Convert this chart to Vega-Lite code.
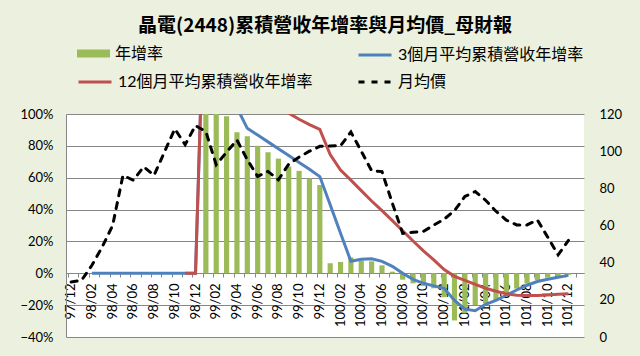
{
  "$schema": "https://vega.github.io/schema/vega-lite/v6.json",
  "width": 518,
  "height": 223,
  "autosize": {"type": "none"},
  "padding": {"left": 66, "top": 114, "right": 56, "bottom": 19},
  "background": "#EBF1DE",
  "config": {
    "view": {"fill": "#FFFFFF", "stroke": null},
    "font": "Lato, Noto Sans CJK TC",
    "axis": {"labelFont": "Lato, Noto Sans CJK TC", "labelColor": "#000000"},
    "legend": {"labelFont": "Lato, Noto Sans CJK TC", "labelFontSize": 16, "labelColor": "#000000", "labelOffset": 5, "labelLimit": 400, "symbolSize": 1089, "orient": "none", "padding": 0}
  },
  "title": {
    "text": "晶電(2448)累積營收年增率與月均價_母財報",
    "font": "Noto Sans CJK TC",
    "fontSize": 19,
    "fontWeight": "bold",
    "color": "#000000",
    "anchor": "middle",
    "offset": 1
  },
  "data": {
    "values": [
      {"m": "97/12", "yoy": null, "r3": null, "r12": null, "p": 29.6},
      {"m": "98/01", "yoy": null, "r3": null, "r12": null, "p": 30.5},
      {"m": "98/02", "yoy": null, "r3": 0, "r12": null, "p": 38.6},
      {"m": "98/03", "yoy": null, "r3": 0, "r12": null, "p": 48.5},
      {"m": "98/04", "yoy": null, "r3": 0, "r12": null, "p": 60},
      {"m": "98/05", "yoy": null, "r3": 0, "r12": null, "p": 87},
      {"m": "98/06", "yoy": null, "r3": 0, "r12": null, "p": 84.4},
      {"m": "98/07", "yoy": null, "r3": 0, "r12": null, "p": 91.6},
      {"m": "98/08", "yoy": null, "r3": 0, "r12": null, "p": 87},
      {"m": "98/09", "yoy": null, "r3": 0, "r12": null, "p": 99.5},
      {"m": "98/10", "yoy": null, "r3": 0, "r12": null, "p": 112},
      {"m": "98/11", "yoy": null, "r3": 0, "r12": 0, "p": 103.5},
      {"m": "98/12", "yoy": null, "r3": 0, "r12": 0, "p": 113.8},
      {"m": "99/01", "yoy": 2.11, "r3": 2.11, "r12": 2.11, "p": 110.5},
      {"m": "99/02", "yoy": 1.25, "r3": 1.68, "r12": 1.68, "p": 92.7},
      {"m": "99/03", "yoy": 0.986, "r3": 1.449, "r12": 1.449, "p": 99.5},
      {"m": "99/04", "yoy": 0.886, "r3": 1.04, "r12": 1.308, "p": 106},
      {"m": "99/05", "yoy": 0.86, "r3": 0.91, "r12": 1.218, "p": 95.4},
      {"m": "99/06", "yoy": 0.80, "r3": 0.868, "r12": 1.149, "p": 86.4},
      {"m": "99/07", "yoy": 0.76, "r3": 0.825, "r12": 1.093, "p": 89.1},
      {"m": "99/08", "yoy": 0.72, "r3": 0.782, "r12": 1.047, "p": 84.6},
      {"m": "99/09", "yoy": 0.67, "r3": 0.739, "r12": 1.005, "p": 93},
      {"m": "99/10", "yoy": 0.643, "r3": 0.696, "r12": 0.967, "p": 96.8},
      {"m": "99/11", "yoy": 0.596, "r3": 0.653, "r12": 0.933, "p": 100},
      {"m": "99/12", "yoy": 0.554, "r3": 0.607, "r12": 0.903, "p": 102.6},
      {"m": "100/01", "yoy": 0.063, "r3": 0.43, "r12": 0.745, "p": 102.8},
      {"m": "100/02", "yoy": 0.071, "r3": 0.252, "r12": 0.648, "p": 102.9},
      {"m": "100/03", "yoy": 0.10, "r3": 0.075, "r12": 0.585, "p": 110.3},
      {"m": "100/04", "yoy": 0.08, "r3": 0.088, "r12": 0.519, "p": 100},
      {"m": "100/05", "yoy": 0.075, "r3": 0.091, "r12": 0.454, "p": 89.5},
      {"m": "100/06", "yoy": 0.05, "r3": 0.075, "r12": 0.393, "p": 89},
      {"m": "100/07", "yoy": 0.01, "r3": 0.044, "r12": 0.331, "p": 72},
      {"m": "100/08", "yoy": -0.04, "r3": 0.0, "r12": 0.267, "p": 55.8},
      {"m": "100/09", "yoy": -0.063, "r3": -0.038, "r12": 0.203, "p": 56.4},
      {"m": "100/10", "yoy": -0.08, "r3": -0.063, "r12": 0.141, "p": 56.8},
      {"m": "100/11", "yoy": -0.094, "r3": -0.079, "r12": 0.084, "p": 60.2},
      {"m": "100/12", "yoy": -0.15, "r3": -0.094, "r12": 0.023, "p": 63.4},
      {"m": "101/01", "yoy": -0.296, "r3": -0.17, "r12": -0.019, "p": 68},
      {"m": "101/02", "yoy": -0.25, "r3": -0.225, "r12": -0.044, "p": 75.6},
      {"m": "101/03", "yoy": -0.20, "r3": -0.235, "r12": -0.069, "p": 78.3},
      {"m": "101/04", "yoy": -0.19, "r3": -0.195, "r12": -0.094, "p": 73.6},
      {"m": "101/05", "yoy": -0.17, "r3": -0.17, "r12": -0.113, "p": 67.7},
      {"m": "101/06", "yoy": -0.138, "r3": -0.138, "r12": -0.129, "p": 62.9},
      {"m": "101/07", "yoy": -0.096, "r3": -0.105, "r12": -0.138, "p": 60.3},
      {"m": "101/08", "yoy": -0.065, "r3": -0.075, "r12": -0.14, "p": 60.3},
      {"m": "101/09", "yoy": -0.044, "r3": -0.052, "r12": -0.14, "p": 63},
      {"m": "101/10", "yoy": -0.027, "r3": -0.038, "r12": -0.136, "p": 53.7},
      {"m": "101/11", "yoy": -0.019, "r3": -0.025, "r12": -0.132, "p": 44.2},
      {"m": "101/12", "yoy": -0.01, "r3": -0.013, "r12": -0.129, "p": 52}
    ]
  },
  "encoding": {
    "x": {
      "field": "m",
      "type": "ordinal",
      "sort": null,
      "title": null,
      "scale": {
        "domain": ["97/12","98/01","98/02","98/03","98/04","98/05","98/06","98/07","98/08","98/09","98/10","98/11","98/12","99/01","99/02","99/03","99/04","99/05","99/06","99/07","99/08","99/09","99/10","99/11","99/12","100/01","100/02","100/03","100/04","100/05","100/06","100/07","100/08","100/09","100/10","100/11","100/12","101/01","101/02","101/03","101/04","101/05","101/06","101/07","101/08","101/09","101/10","101/11","101/12","102/01"],
        "paddingInner": 0.5,
        "paddingOuter": 0.25
      }
    }
  },
  "layer": [
    {
      "layer": [
        {
          "mark": {"type": "bar", "clip": true},
          "encoding": {
            "x": {
              "field": "m", "type": "ordinal", "sort": null,
              "axis": {
                "orient": "bottom", "offset": -64, "title": null,
                "values": ["97/12","98/02","98/04","98/06","98/08","98/10","98/12","99/02","99/04","99/06","99/08","99/10","99/12","100/02","100/04","100/06","100/08","100/10","100/12","101/02","101/04","101/06","101/08","101/10","101/12"],
                "labelAngle": 270, "labelFontSize": 13, "labelPadding": 10,
                "ticks": false, "domain": true, "domainColor": "#868686", "domainWidth": 1, "grid": false
              }
            },
            "y": {
              "field": "yoy", "type": "quantitative",
              "scale": {"domain": [-0.4, 1], "nice": false, "zero": false},
              "axis": {
                "orient": "left", "title": null,
                "values": [-0.4, -0.2, 0, 0.2, 0.4, 0.6, 0.8, 1],
                "format": ".0%", "grid": true, "gridColor": "#868686", "gridOpacity": 1,
                "domain": true, "domainColor": "#868686", "ticks": false,
                "labelFontSize": 13, "labelPadding": 13, "labelOverlap": false
              }
            },
            "fill": {
              "datum": "年增率",
              "type": "nominal",
              "scale": {"domain": ["年增率"], "range": ["#9BBB59"]},
              "legend": {
                "legendX": 11, "legendY": -77,
                "symbolType": "M-1,-0.24H1V0.24H-1Z", "symbolStrokeWidth": 0
              }
            }
          }
        },
        {
          "mark": {"type": "line", "clip": true, "strokeWidth": 3},
          "encoding": {
            "y": {
              "field": "r3", "type": "quantitative",
              "scale": {"domain": [-0.4, 1], "nice": false, "zero": false},
              "axis": {
                "orient": "left", "title": null,
                "values": [-0.4, -0.2, 0, 0.2, 0.4, 0.6, 0.8, 1],
                "format": ".0%", "grid": true, "gridColor": "#868686", "gridOpacity": 1,
                "domain": true, "domainColor": "#868686", "ticks": false,
                "labelFontSize": 13, "labelPadding": 13, "labelOverlap": false
              }
            },
            "stroke": {
              "datum": "3個月平均累積營收年增率",
              "type": "nominal",
              "scale": {"domain": ["3個月平均累積營收年增率"], "range": ["#4F81BD"]},
              "legend": {"legendX": 291, "legendY": -77, "symbolType": "stroke", "symbolStrokeWidth": 3}
            }
          }
        },
        {
          "mark": {"type": "line", "clip": true, "color": "#C0504D", "strokeWidth": 3},
          "encoding": {
            "y": {
              "field": "r12", "type": "quantitative",
              "scale": {"domain": [-0.4, 1], "nice": false, "zero": false},
              "axis": {
                "orient": "left", "title": null,
                "values": [-0.4, -0.2, 0, 0.2, 0.4, 0.6, 0.8, 1],
                "format": ".0%", "grid": true, "gridColor": "#868686", "gridOpacity": 1,
                "domain": true, "domainColor": "#868686", "ticks": false,
                "labelFontSize": 13, "labelPadding": 13, "labelOverlap": false
              }
            },
            "opacity": {
              "datum": "12個月平均累積營收年增率",
              "type": "ordinal",
              "scale": {"domain": ["12個月平均累積營收年增率"], "range": [1]},
              "legend": {"legendX": 11, "legendY": -50, "symbolType": "stroke", "symbolStrokeColor": "#C0504D", "symbolStrokeWidth": 3}
            }
          }
        }
      ]
    },
    {
      "mark": {"type": "line", "clip": true, "strokeWidth": 3, "color": "#000000", "strokeCap": "round"},
      "encoding": {
        "x": {
          "field": "m", "type": "ordinal", "sort": null,
          "axis": {
            "orient": "bottom", "offset": -64, "title": null, "labels": false,
            "domain": false, "ticks": true, "tickSize": 4, "tickColor": "#868686",
            "bandPosition": 0, "grid": false
          }
        },
        "y": {
          "field": "p", "type": "quantitative",
          "scale": {"domain": [0, 120], "nice": false},
          "axis": {
            "orient": "right", "title": null, "values": [0, 20, 40, 60, 80, 100, 120],
            "grid": false, "domain": false, "ticks": false,
            "labelFontSize": 13, "labelPadding": 15, "labelOverlap": false
          }
        },
        "strokeDash": {
          "datum": "月均價",
          "type": "nominal",
          "scale": {"domain": ["月均價"], "range": [[6, 7]]},
          "legend": {"legendX": 291, "legendY": -50, "symbolType": "stroke", "symbolStrokeColor": "#000000", "symbolStrokeWidth": 3}
        }
      }
    }
  ],
  "resolve": {"scale": {"y": "independent"}, "axis": {"x": "independent"}}
}
